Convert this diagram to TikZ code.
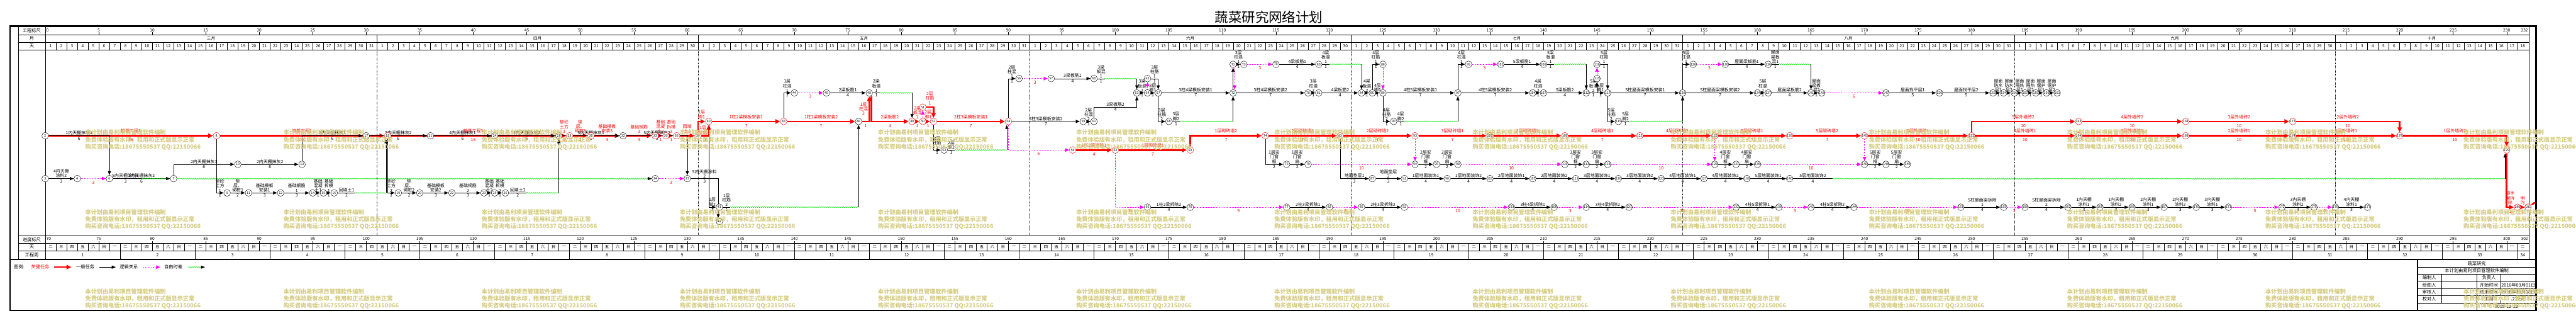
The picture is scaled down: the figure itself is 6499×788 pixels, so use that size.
\documentclass[tikz,border=0pt]{standalone}
\usepackage{fontspec}
\setmainfont{Noto Sans CJK SC}
\usetikzlibrary{arrows.meta,decorations.pathmorphing}
\definecolor{crit-red}{HTML}{FF0000}
\definecolor{slack-green}{HTML}{00E600}
\definecolor{link-magenta}{HTML}{FF00FF}
\definecolor{mark-khaki}{HTML}{D6CC82}
\newcommand\lbfont{\fontsize{11}{11.5}\selectfont}
\newcommand\scfont{\fontsize{10.5}{11}\selectfont}
\newcommand\hdfont{\fontsize{11.5}{12}\selectfont}
\pgfdeclarelayer{grid}
\pgfdeclarelayer{crit}
\pgfdeclarelayer{links}
\pgfsetlayers{grid,crit,links,main}
\tikzset{
  ev/.style={circle, draw=black, line width=0.7pt, fill=white,
    minimum size=17pt, inner sep=0pt, font=\fontsize{8.5}{9}\selectfont},
  evc/.style={ev, draw=crit-red},
  tline/.style={draw=black, line width=0.9pt},
  task/.style={tline, -{Triangle[length=10pt,width=8pt]}},
  crit/.style={draw=crit-red, line width=4pt, -{Triangle[length=12pt,width=11pt]}},
  dummy/.style={draw=link-magenta, line width=1pt, dash pattern=on 2pt off 2pt,
    -{Triangle[length=10pt,width=9pt]}},
  slack/.style={draw=slack-green, line width=0.8pt, decorate,
    decoration={snake, amplitude=1.3pt, segment length=5pt}},
  slackarr/.style={draw=slack-green, line width=0.8pt, decorate,
    decoration={snake, amplitude=1.3pt, segment length=5pt, post length=10pt},
    -{Triangle[length=10pt,width=8pt,color=black]}},
  lab/.style={above=1.5pt, font=\lbfont, align=center, inner sep=0pt},
  lbr/.style={lab, above=3pt, text=crit-red},
  lbside/.style={left=1.5pt, font=\lbfont, align=center, inner sep=0pt, text=crit-red},
  dur/.style={below=2pt, font=\lbfont, inner sep=0pt},
  dr/.style={dur, below=3pt, text=crit-red},
  scl/.style={font=\scfont, inner sep=0pt},
  hd/.style={font=\hdfont, inner sep=0pt},
  wm/.style={anchor=west, font=\fontsize{14.5}{15}\selectfont\bfseries, text=mark-khaki, inner sep=0pt},
  monthsep/.style={draw=black, line width=0.5pt, dash pattern=on 1.5pt off 1.5pt},
}
\begin{document}
\begin{tikzpicture}[x=1pt, y=-1pt]
\useasboundingbox (0,0) rectangle (6499,788);
\begin{pgfonlayer}{grid}
  \fill[white] (0,0) rectangle (6499,788);
\end{pgfonlayer}
% title
\node[font=\fontsize{34}{36}\selectfont, inner sep=0pt] (title) at (3201,43) {蔬菜研究网络计划};
% frame and rulers
\draw[line width=4pt] (25.5,66) rectangle (6398,782);
\draw[line width=3pt] (25.5,653.5) -- (6398,653.5);
\draw[line width=0.8pt] (46,68) -- (46,652);
\draw[line width=0.8pt] (114,68) -- (114,652);
\draw[line width=0.8pt] (6380,68) -- (6380,652);
\foreach \y in {87,106,125,594,613,632} \draw[line width=0.8pt] (46,\y) -- (6380,\y);
\node[hd] (hdScale) at (80,77.5) {工程标尺};
\node[hd] (hdMonth) at (80,96.5) {月};
\node[hd] (hdDay) at (80,115.5) {天};
\node[hd] (hdProg) at (80,603.5) {进度标尺};
\node[hd] (hdWeekday) at (80,622.5) {天};
\node[hd] (hdWeek) at (80,642.5) {工程周};

\begin{scope}[shift={(114,0)}, x=27pt]
  % top scale
  \node[scl, anchor=west] (sc0) at (0.1,76.5) {0};
  \foreach \d in {5,10,...,230} {
    \draw[line width=0.6pt] (\d,81) -- (\d,87);
    \node[scl] at (\d,76.5) {\d};
  }
  \node[scl, anchor=east] (sc232) at (232,76.5) {232};
  % months
  \foreach \b in {31,61,92,122,153,184,214} \draw[line width=0.8pt] (\b,87) -- (\b,106);
  \foreach \c/\mname in {15.5/三月,46/四月,76.5/五月,107/六月,137.5/七月,168.5/八月,199/九月,223/十月}
    \node[scl] at (\c,96.5) {\mname};
  % days of month
  \foreach \d in {1,...,231} \draw[line width=0.6pt] (\d,106) -- (\d,125);
  \foreach \ms/\mn in {0/31,31/30,61/31,92/30,122/31,153/31,184/30,214/18}
    \foreach \i in {1,...,\mn}
      \node[scl] at (\ms+\i-0.5,115.5) {\i};
  \begin{pgfonlayer}{grid}
    \foreach \b in {31,61,92,122,153,184,214} \draw[monthsep] (\b,125) -- (\b,594);
  \end{pgfonlayer}
  % bottom scale
  \node[scl, anchor=west] (pc70) at (0.1,601.5) {70};
  \foreach \d in {5,10,...,230} {
    \pgfmathtruncatemacro\p{\d+70}
    \draw[line width=0.6pt] (\d,607) -- (\d,613);
    \node[scl] at (\d,601.5) {\p};
  }
  \node[scl, anchor=east] (pc302) at (232,601.5) {302};
  \foreach \d in {1,...,231} \draw[line width=0.6pt] (\d,613) -- (\d,632);
  \foreach \d in {0,...,231} {
    \pgfmathtruncatemacro\w{mod(\d+1,7)}
    \node[scl] at (\d+0.5,622.5) {\ifcase\w 一\or 二\or 三\or 四\or 五\or 六\or 日\fi};
  }
  \foreach \k in {1,...,33} {
    \draw[line width=0.6pt] (7*\k,632) -- (7*\k,652);
    \node[scl] at (7*\k-3.5,642.5) {\k};
  }
  \node[scl] (wk34) at (231.5,642.5) {34};

  % events
  \foreach \id/\d/\r in {
    71/111/162, 73/112/162, 75/115/162, 80/119/162, 88/125/162, 99/133/162, 102/136/162,
    106/140/162, 116/145/162, 126/154/162, 130/157/162, 136/161/162,
    56/91/198, 57/94/198, 60/98/198, 65/103/198, 115/145/198,
    44/70/234, 45/73/234, 48/77/234, 63/102/234, 64/103/234, 67/104/234, 72/111/234,
    78/118/234, 81/119/234, 84/123/234, 86/124/234, 89/125/234, 97/132/234, 104/139/234,
    107/140/234, 112/144/234, 117/146/234, 128/153/234, 134/160/234, 137/161/234,
    141/165/234, 143/166/234, 147/172/234, 150/177/234, 153/182/234, 154/183/234,
    156/184/234, 157/185/234, 159/186/234, 160/187/234, 161/188/234,
    46/76/306, 59/97/306, 61/98/306, 68/105/306, 90/126/306, 119/147/306,
    2/0/342, 17/30/342, 21/36/342, 24/42/342, 28/48/342, 32/54/342,
    53/84/378,
    10/18/414, 13/24/414, 76/116/414, 79/118/414, 94/128/414, 95/130/414, 98/132/414,
    110/142/414, 113/144/414, 118/146/414, 129/156/414, 131/158/414, 135/160/414,
    146/170/414, 148/172/414, 149/174/414,
    3/0/450, 4/3/450, 6/6/450, 7/12/450, 34/57/450, 37/60/450, 87/124/450, 91/127/450,
    96/131/450, 101/135/450, 105/139/450, 111/143/450, 120/147/450, 123/151/450,
    127/155/450, 133/159/450, 140/163/450,
    9/17/486, 11/19/486, 12/22/486, 14/25/486, 15/26/486, 16/27/486, 19/33/486,
    20/35/486, 22/38/486, 23/41/486, 25/42/486, 26/43/486,
    41/63/522, 66/103/522, 70/107/522, 77/116/522, 82/120/522, 85/123/522, 92/127/522,
    103/137/522, 108/141/522, 114/144/522, 121/148/522, 132/158/522, 138/162/522,
    142/165/522, 144/169/522, 151/179/522, 155/183/522, 158/185/522, 162/189/522,
    165/192/522, 166/195/522, 167/198/522, 170/201/522, 171/204/522, 172/209/522,
    175/212/522, 176/214/522, 177/217/522,
    42/63/558}
    \node[ev] (n\id) at (\d,\r) {\id};
  % critical events
  \foreach \id/\d/\r in {
    51/82/270, 40/62/306, 43/69/306, 49/81/306, 50/82/306, 52/83/306, 54/90/306,
    163/190/306, 168/200/306, 173/210/306,
    8/16/342, 18/32/342, 29/49/342, 30/51/342, 33/57/342, 35/58/342, 36/59/342,
    39/61/342, 74/114/342, 83/121/342, 93/128/342, 100/135/342, 109/142/342,
    122/149/342, 125/156/342, 139/163/342, 145/170/342, 152/180/342, 164/190/342,
    169/200/342, 174/210/342, 178/220/342,
    58/96/378, 62/100/378, 69/107/378, 179/230/378,
    180/231/522, 181/232/522}
    \node[evc] (n\id) at (\d,\r) {\id};

  % free ends of slack lines
  \coordinate (f6) at (9,450);
  \coordinate (f16) at (29,486);
  \coordinate[xshift=-4pt] (g16) at (32,486);
  \coordinate (f26) at (45,486);
  \coordinate (g26) at (48,486);
  \coordinate (f41) at (64,522);
  \coordinate (g41) at (76,522);
  \coordinate (f48) at (78,234);
  \coordinate (g48) at (81,234);
  \coordinate (f53) at (85,378);
  \coordinate[xshift=-4pt] (g53) at (90,378);
  \coordinate (f60) at (99,198);
  \coordinate (g60) at (102,198);
  \coordinate (k61) at (100,270);
  \coordinate (f68) at (106,306);
  \coordinate (g68) at (111,306);
  \coordinate (f80) at (120,162);
  \coordinate (g80) at (123,162);
  \coordinate (f90) at (127,306);
  \coordinate (g90) at (132,306);
  \coordinate (f106) at (141,162);
  \coordinate (g106) at (144,162);
  \coordinate (f119) at (148,306);
  \coordinate (g119) at (153,306);
  \coordinate (f136) at (162,162);
  \coordinate (g136) at (165,162);
  \coordinate (f140) at (167,450);
  \coordinate[xshift=-4pt] (g140) at (230,450);

  % critical path
  \begin{pgfonlayer}{crit}
    \draw[crit] (n2) -- node[lbr]{桩基工程1} node[dr]{16} (n8);
    \draw[crit] (n8) -- node[lbr]{桩基工程2} node[dr]{16} (n18);
    \draw[crit] (n18) -- node[lbr]{桩基工程3} node[dr]{16} (n28);
    \draw[crit] (n28) -- node[lbr]{垫砼\\土方\\3} node[dr]{1} (n29);
    \draw[crit] (n29) -- node[lbr]{垫\\层、\\砌桩3} node[dr]{2} (n30);
    \draw[crit] (n30) -- node[lbr]{基础模板\\安装3} node[dr]{3} (n32);
    \draw[crit] (n32) -- node[lbr]{基础钢筋\\3} node[dr]{3} (n33);
    \draw[crit] (n33) -- node[lbr]{基础\\混凝\\土3} node[dr]{1} (n35);
    \draw[crit] (n35) -- node[lbr]{基础\\拆模\\3} node[dr]{1} (n36);
    \draw[crit] (n36) -- node[lbr]{回填\\土3} node[dr]{2} (n39);
    \draw[crit] (n39) |- node[pos=0.75,lbr]{1层\\脚1} (n40);
    \draw[crit] (n39) -| node[pos=0.25,dr]{1} node[pos=0.75,lbside]{1层\\柱筋} (n40);
    \draw[crit] (n40) -- node[lbr]{1柱2梁模板安装1} node[dr]{7} (n43);
    \draw[crit] (n43) -- node[lbr]{1柱2梁模板安装2} node[dr]{7} (n46);
    \draw[crit] (n46) -| node[pos=0.25,dr]{1} node[pos=0.75,lbside]{1层\\柱混\\2} (n48);
    \draw[crit] ([xshift=5pt]n48.south) |- node[pos=0.75,lbr]{2梁板筋2} node[pos=0.75,dr]{4} (n49);
    \draw[crit] (n49) -- node[lbr]{2梁\\板混\\2} node[dr]{1} (n50);
    \draw[crit] (n50) -- node[lbr]{2层\\脚1} node[dr]{1} (n52);
    \draw[crit] (n51) -| node[pos=0.25,lbr]{2层\\柱筋\\1} (n52);
    \draw[crit] (n52) -- node[lbr]{2柱3梁模板安装1} node[dr]{7} (n54);
    \draw[crit] (n58) -- node[lbr]{1柱2梁拆除1} node[dr]{4} (n62);
    \draw[crit] (n62) -- node[lbr]{1层砌砖墙1} node[dr]{7} (n69);
    \draw[crit] (n69) |- node[pos=0.75,lbr]{1层砌砖墙2} node[pos=0.75,dr]{7} (n74);
    \draw[crit] (n74) -- node[lbr]{2层砌砖墙1} node[dr]{7} (n83);
    \draw[crit] (n83) -- node[lbr]{2层砌砖墙2} node[dr]{7} (n93);
    \draw[crit] (n93) -- node[lbr]{3层砌砖墙1} node[dr]{7} (n100);
    \draw[crit] (n100) -- node[lbr]{3层砌砖墙2} node[dr]{7} (n109);
    \draw[crit] (n109) -- node[lbr]{4层砌砖墙1} node[dr]{7} (n122);
    \draw[crit] (n122) -- node[lbr]{4层砌砖墙2} node[dr]{7} (n125);
    \draw[crit] (n125) -- node[lbr]{5层砌砖墙1} node[dr]{7} (n139);
    \draw[crit] (n139) -- node[lbr]{5层砌砖墙2} node[dr]{7} (n145);
    \draw[crit] (n145) -- node[lbr]{5层外墙砖1} node[dr]{10} (n152);
    \draw[crit] (n152) -- node[lbr]{4层外墙砖1} node[dr]{10} (n164);
    \draw[crit] (n164) -- node[lbr]{3层外墙砖1} node[dr]{10} (n169);
    \draw[crit] (n169) -- node[lbr]{2层外墙砖1} node[dr]{10} (n174);
    \draw[crit] (n174) -- node[lbr]{1层外墙砖1} node[dr]{10} (n178);
    \draw[crit] (n178) -| node[pos=0.25,lbr]{1层外墙砖2} node[pos=0.25,dr]{10} (n179);
    \draw[crit] (n152) |- node[pos=0.75,lbr]{5层外墙砖2} node[pos=0.75,dr]{10} (n163);
    \draw[crit] (n163) -- node[lbr]{4层外墙砖2} node[dr]{10} (n168);
    \draw[crit] (n168) -- node[lbr]{3层外墙砖2} node[dr]{10} (n173);
    \draw[crit] (n173) -| node[pos=0.25,lbr]{2层外墙砖2} node[pos=0.25,dr]{10} (n178);
    \draw[crit] (n179) |- node[pos=0.75,lbr]{脚手\\架拆\\除} node[pos=0.75,dr]{1} (n180);
    \draw[crit] (n180) -- node[lbr]{明\\沟} node[dr]{1} (n181);
    \fill[crit-red] (n181.north east) -- ++(9pt,7pt) -- ++(7pt,0pt) -- ++(-9pt,-7pt) -- cycle;
  \end{pgfonlayer}

  % other tasks, links and slack
  \begin{pgfonlayer}{links}
    % ceiling plaster and foundations
    \draw[task] (n2) -| node[pos=0.25,lab]{1内天棚抹灰1} node[pos=0.25,dur]{6} (n6);
    \draw[task] (n3) -- node[lab]{4内天棚\\涂料2} node[dur]{3} (n4);
    \draw[dummy] (n4) -- node[dr]{3} (n6);
    \draw[task] (n6) -- node[pos=0.22,lab]{5内天棚涂料1} node[pos=0.22,dur]{3}
      node[pos=0.5,lab]{1内天棚抹灰2} node[pos=0.5,dur]{6} (n7);
    \draw[slack] (f6) -- ([xshift=-10pt]n7.west);
    \draw[slackarr] (n7) -- (n34);
    \draw[dummy] (n34) -- node[dr]{3} (n37);
    \draw[task] (n7) |- node[pos=0.75,lab]{2内天棚抹灰1} node[pos=0.75,dur]{6} (n10);
    \draw[task] (n10) -- node[lab]{2内天棚抹灰2} node[dur]{6} (n13);
    \draw[task] (n13) |- node[pos=0.75,lab]{3内天棚抹灰1} node[pos=0.75,dur]{6} (n17);
    \draw[task] (n17) -- node[lab]{3内天棚抹灰2} node[dur]{6} (n21);
    \draw[task] (n21) -- node[lab]{4内天棚抹灰1} node[dur]{6} (n24);
    \draw[task] (n24) -- node[lab]{4内天棚抹灰2} node[dur]{6} (n28);
    \draw[task] (n28) -- node[lab]{5内天棚抹灰1} node[dur]{6} (n32);
    \draw[task] (n32) -| node[pos=0.25,lab]{5内天棚抹灰2} node[pos=0.25,dur]{6} (n37);
    \draw[task] (n37) -| node[pos=0.25,lab]{5内天棚涂料\\2} node[pos=0.25,dur]{3} ([xshift=-3pt]n42.north);
    \draw[task] (n8) |- node[pos=0.75,lab]{垫砼\\土方\\1} node[pos=0.75,dur]{1} (n9);
    \draw[task] (n9) -- node[lab]{垫\\层、\\砌桩1} node[dur]{2} (n11);
    \draw[task] (n11) -- node[lab]{基础模板\\安装1} node[dur]{3} (n12);
    \draw[task] (n12) -- node[lab]{基础钢筋\\1} node[dur]{3} (n14);
    \draw[task] (n14) -- node[lab]{基础\\混凝\\土1} node[dur]{1} (n15);
    \draw[task] (n15) -- node[lab]{基础\\拆模\\1} node[dur]{1} (n16);
    \draw[tline] (n16) -- node[lab]{回填土1} node[dur]{2} (f16);
    \draw[slack] (f16) -- (g16);
    \draw[task] (g16) -- (g16 |- n18.south);
    \draw[task] (n18) |- node[pos=0.75,lab]{垫砼\\土方\\2} node[pos=0.75,dur]{1} (n19);
    \draw[task] (n19) -- node[lab]{垫\\层、\\砌桩2} node[dur]{2} (n20);
    \draw[task] (n20) -- node[lab]{基础模板\\安装2} node[dur]{3} (n22);
    \draw[task] (n22) -- node[lab]{基础钢筋\\2} node[dur]{3} (n23);
    \draw[task] (n23) -- node[lab]{基础\\混凝\\土2} node[dur]{1} (n25);
    \draw[task] (n25) -- node[lab]{基础\\拆模\\2} node[dur]{1} (n26);
    \draw[tline] (n26) -- node[lab]{回填土2} node[dur]{2} (f26);
    \draw[slack] (f26) -- (g26);
    \draw[task] (g26) -- (n28);
    % floor 1
    \draw[task] (n43) |- node[pos=0.75,lab]{1层\\柱混\\1} node[pos=0.75,dur]{1} (n44);
    \draw[dummy] (n44) -- node[dr]{3} (n45);
    \draw[task] (n45) -- node[lab]{2梁板筋1} node[dur]{4} (n48);
    \draw[tline] (n48) -- node[lab]{2梁\\板混\\1} node[dur]{1} (f48);
    \draw[slack] (f48) -- (g48);
    \draw[task] (g48) -- (n49);
    \draw[task] (n40) |- node[pos=0.75,lab]{1层\\脚2} node[pos=0.75,dur]{1} (n41);
    \draw[tline] (n41) -- node[lab]{1层\\柱筋\\2} node[dur]{1} (f41);
    \draw[slack] (f41) -- (g41);
    \draw[task] (g41) -- (n46);
    % floor 2
    \draw[dummy] (n50) -- (n51);
    \draw[task] (n52) |- node[pos=0.75,lab]{2层\\柱筋\\2} node[pos=0.75,dur]{1} (n53);
    \draw[tline] (n53) -- node[lab]{2层\\脚2} node[dur]{1} (f53);
    \draw[slack] (f53) -- (g53);
    \draw[task] (g53) -- (g53 |- n54.south);
    \draw[task] (n54) |- node[pos=0.75,lab]{2层\\柱混\\1} node[pos=0.75,dur]{1} (n56);
    \draw[dummy] (n56) -- node[dr]{3} (n57);
    \draw[task] (n57) -- node[lab]{3梁板筋1} node[dur]{4} (n60);
    \draw[tline] (n60) -- node[lab]{3梁\\板混\\1} node[dur]{1} (f60);
    \draw[slack] (f60) -- (g60);
    \draw[task] (g60) -- (n63);
    \draw[task] (n54) -- node[lab]{2柱3梁模板安装2} node[dur]{7} (n59);
    \draw[task] (n59) -- node[lab]{2层\\柱混\\2} node[dur]{1} (n61);
    \draw[task] (n61) |- (k61) node[lab]{3梁板筋2} node[dur]{4} -| (n63);
    \draw[dummy] (n54) |- node[pos=0.75,dr]{6} (n58);
    \draw[dummy] (n62) |- node[pos=0.75,dr]{3} (n66);
    % floor 3
    \draw[task] (n63) -- node[lab]{3梁\\板混\\2} node[dur]{1} (n64);
    \draw[task] (n64) -- node[lab]{3层\\脚1} node[dur]{1} (n67);
    \draw[dummy] (n64) -- (n65);
    \draw[task] (n65) -| node[pos=0.25,lab]{3层\\柱筋\\1} node[pos=0.25,dur]{1} (n67);
    \draw[task] (n67) -- node[lab]{3柱4梁模板安装1} node[dur]{7} (n72);
    \draw[task] (n67) |- node[pos=0.75,lab]{3层\\柱筋\\2} node[pos=0.75,dur]{1} (n68);
    \draw[tline] (n68) -- node[lab]{3层\\脚2} node[dur]{1} (f68);
    \draw[slack] (f68) -- (g68);
    \draw[task] (g68) -- (n72);
    \draw[task] (n72) -- (n71);
    \draw[dummy] ([xshift=4pt]n71.south) -- ([xshift=4pt]n72.north);
    \draw[task] (n71) -- node[lab]{3层\\柱混\\1} node[dur]{1} (n73);
    \draw[dummy] (n73) -- node[dr]{3} (n75);
    \draw[task] (n75) -- node[lab]{4梁板筋1} node[dur]{4} (n80);
    \draw[tline] (n80) -- node[lab]{4梁\\板混\\1} node[dur]{1} (f80);
    \draw[slack] (f80) -- (g80);
    \draw[task] (g80) -- (n84);
    \draw[task] (n72) -- node[lab]{3柱4梁模板安装2} node[dur]{7} (n78);
    \draw[task] (n78) -- node[lab]{3层\\柱混\\2} node[dur]{1} (n81);
    \draw[task] (n81) -- node[lab]{4梁板筋2} node[dur]{4} (n84);
    % floor 4
    \draw[task] (n84) -- node[lab]{4梁\\板混\\2} node[dur]{1} (n86);
    \draw[task] (n86) -- node[lab]{4层\\脚1} node[dur]{1} (n89);
    \draw[task] (n86) |- node[pos=0.75,lab]{4层\\柱筋\\1} node[pos=0.75,dur]{1} (n88);
    \draw[dummy] (n88) -- (n89);
    \draw[task] (n89) -- node[lab]{4柱5梁模板安装1} node[dur]{7} (n97);
    \draw[task] (n89) |- node[pos=0.75,lab]{4层\\柱筋\\2} node[pos=0.75,dur]{1} (n90);
    \draw[tline] (n90) -- node[lab]{4层\\脚2} node[dur]{1} (f90);
    \draw[slack] (f90) -- (g90);
    \draw[task] (g90) -- (n97);
    \draw[task] (n97) |- node[pos=0.75,lab]{4层\\柱混\\1} node[pos=0.75,dur]{1} (n99);
    \draw[dummy] (n99) -- node[dr]{3} (n102);
    \draw[task] (n102) -- node[lab]{5梁板筋1} node[dur]{4} (n106);
    \draw[tline] (n106) -- node[lab]{5梁\\板混\\1} node[dur]{1} (f106);
    \draw[slack] (f106) -- (g106);
    \draw[task] (g106) -- (n112);
    \draw[task] (n97) -- node[lab]{4柱5梁模板安装2} node[dur]{7} (n104);
    \draw[task] (n104) -- node[lab]{4层\\柱混\\2} node[dur]{1} (n107);
    \draw[task] (n107) -- node[lab]{5梁板筋2} node[dur]{4} (n112);
    % floor 5 and roof
    \draw[task] (n112) -| node[pos=0.25,lab]{5梁\\板混\\2} node[pos=0.25,dur]{1} (n115);
    \draw[task] (n115) |- node[pos=0.75,lab]{5层\\脚1} node[pos=0.75,dur]{1} (n117);
    \draw[dummy] (n115) -- (n116);
    \draw[task] (n116) -| node[pos=0.25,lab]{5层\\柱筋\\1} node[pos=0.25,dur]{1} (n117);
    \draw[task] (n117) -- node[lab]{5柱屋面梁模板安装1} node[dur]{7} (n128);
    \draw[task] (n117) |- node[pos=0.75,lab]{5层\\柱筋\\2} node[pos=0.75,dur]{1} (n119);
    \draw[tline] (n119) -- node[lab]{5层\\脚2} node[dur]{1} (f119);
    \draw[slack] (f119) -- (g119);
    \draw[task] (g119) -- (n128);
    \draw[task] (n128) |- node[pos=0.75,lab]{5层\\柱混\\1} node[pos=0.75,dur]{1} (n126);
    \draw[dummy] (n126) -- node[dr]{3} (n130);
    \draw[task] (n130) -- node[lab]{屋面梁板筋1} node[dur]{4} (n136);
    \draw[tline] (n136) -- node[lab]{屋面\\梁板\\混1} node[dur]{1} (f136);
    \draw[slack] (f136) -- (g136);
    \draw[task] (g136) -- (n141);
    \draw[task] (n128) -- node[lab]{5柱屋面梁模板安装2} node[dur]{7} (n134);
    \draw[task] (n134) -- node[lab]{5层\\柱混\\2} node[dur]{1} (n137);
    \draw[task] (n137) -- node[lab]{屋面梁板筋2} node[dur]{4} (n141);
    \draw[task] (n141) -- node[lab]{屋面\\梁板\\混2} node[dur]{1} (n143);
    \draw[dummy] (n143) -- node[dr]{6} (n147);
    \draw[task] (n147) -- node[lab]{屋面找平层1} node[dur]{5} (n150);
    \draw[task] (n150) -- node[lab]{屋面找平层2} node[dur]{5} (n153);
    \draw[task] (n153) -- node[lab]{屋面\\防水\\层1} node[dur]{1} (n154);
    \draw[task] (n154) -- node[lab]{屋面\\防水\\层2} node[dur]{1} (n156);
    \draw[task] (n156) -- node[lab]{屋面\\隔热\\层1} node[dur]{1} (n157);
    \draw[task] (n157) -- node[lab]{屋面\\隔热\\层2} node[dur]{1} (n159);
    \draw[task] (n159) -- node[lab]{屋面\\保护\\层1} node[dur]{1} (n160);
    \draw[task] (n160) -- node[lab]{屋面\\保护\\层2} node[dur]{1} (n161);
    % doors and windows
    \draw[task] (n74) |- node[pos=0.75,lab]{1层安\\门窗\\框} node[pos=0.75,dur]{2} (n76);
    \draw[task] (n76) -- node[lab]{1层安\\门窗\\扇} node[dur]{2} (n79);
    \draw[dummy] (n79) -- node[dr]{10} (n94);
    \draw[dummy] (n93) -- (n94);
    \draw[task] (n94) -- node[lab]{2层安\\门窗\\框} node[dur]{2} (n95);
    \draw[task] (n95) -- node[lab]{2层安\\门窗\\扇} node[dur]{2} (n98);
    \draw[dummy] (n98) -- node[dr]{10} (n110);
    \draw[task] (n110) -- node[lab]{3层安\\门窗\\框} node[dur]{2} (n113);
    \draw[task] (n113) -- node[lab]{3层安\\门窗\\扇} node[dur]{2} (n118);
    \draw[dummy] (n118) -- node[dr]{10} (n129);
    \draw[dummy] (n125) -- (n129);
    \draw[task] (n129) -- node[lab]{4层安\\门窗\\框} node[dur]{2} (n131);
    \draw[task] (n131) -- node[lab]{4层安\\门窗\\扇} node[dur]{2} (n135);
    \draw[dummy] (n135) -- node[dr]{10} (n146);
    \draw[dummy] (n145) -- (n146);
    \draw[task] (n146) -- node[lab]{5层安\\门窗\\框} node[dur]{2} (n148);
    \draw[task] (n148) -- node[lab]{5层安\\门窗\\扇} node[dur]{2} (n149);
    % floors
    \draw[task] (n83) |- node[pos=0.75,lab]{地面垫层1} node[pos=0.75,dur]{3} (n87);
    \draw[task] (n87) -- node[lab]{地面垫层\\2} node[dur]{3} (n91);
    \draw[task] (n91) -- node[lab]{1层地面装饰1} node[dur]{4} (n96);
    \draw[task] (n96) -- node[lab]{1层地面装饰2} node[dur]{4} (n101);
    \draw[task] (n101) -- node[lab]{2层地面装饰1} node[dur]{4} (n105);
    \draw[task] (n105) -- node[lab]{2层地面装饰2} node[dur]{4} (n111);
    \draw[task] (n111) -- node[lab]{3层地面装饰1} node[dur]{4} (n120);
    \draw[task] (n120) -- node[lab]{3层地面装饰2} node[dur]{4} (n123);
    \draw[task] (n123) -- node[lab]{4层地面装饰1} node[dur]{4} (n127);
    \draw[task] (n127) -- node[lab]{4层地面装饰2} node[dur]{4} (n133);
    \draw[task] (n133) -- node[lab]{5层地面装饰1} node[dur]{4} (n140);
    \draw[tline] (n140) -- node[lab]{5层地面装饰2} node[dur]{4} (f140);
    \draw[slack] (f140) -- (g140);
    \draw[task] (g140) -- (g140 |- n179.south);
    % formwork removal and ceiling paint
    \draw[task] (n66) -- node[lab]{1柱2梁拆除2} node[dur]{4} (n70);
    \draw[dummy] (n70) -- node[dr]{9} (n77);
    \draw[task] (n77) -- node[lab]{2柱3梁拆除1} node[dur]{4} (n82);
    \draw[dummy] (n82) -- node[dr]{3} (n85);
    \draw[task] (n85) -- node[lab]{2柱3梁拆除2} node[dur]{4} (n92);
    \draw[dummy] (n92) -- node[dr]{10} (n103);
    \draw[task] (n103) -- node[lab]{3柱4梁拆除1} node[dur]{4} (n108);
    \draw[dummy] (n108) -- node[dr]{3} (n114);
    \draw[task] (n114) -- node[lab]{3柱4梁拆除2} node[dur]{4} (n121);
    \draw[dummy] (n121) -- node[dr]{10} (n132);
    \draw[task] (n132) -- node[lab]{4柱5梁拆除1} node[dur]{4} (n138);
    \draw[dummy] (n138) -- node[dr]{3} (n142);
    \draw[task] (n142) -- node[lab]{4柱5梁拆除2} node[dur]{4} (n144);
    \draw[dummy] (n144) -- node[dr]{10} (n151);
    \draw[task] (n151) -- node[lab]{5柱屋面梁拆除\\1} node[dur]{4} (n155);
    \draw[dummy] (n155) -- node[dr]{2} (n158);
    \draw[task] (n158) -- node[lab]{5柱屋面梁拆除\\2} node[dur]{4} (n162);
    \draw[task] (n162) -- node[lab]{1内天棚\\涂料1} node[dur]{3} (n165);
    \draw[task] (n165) -- node[lab]{1内天棚\\涂料2} node[dur]{3} (n166);
    \draw[task] (n166) -- node[lab]{2内天棚\\涂料1} node[dur]{3} (n167);
    \draw[task] (n167) -- node[lab]{2内天棚\\涂料2} node[dur]{3} (n170);
    \draw[task] (n170) -- node[lab]{3内天棚\\涂料1} node[dur]{3} (n171);
    \draw[dummy] (n171) -- node[dr]{5} (n172);
    \draw[task] (n172) -- node[lab]{3内天棚\\涂料2} node[dur]{3} (n175);
    \draw[dummy] (n175) -- node[dr]{2} (n176);
    \draw[task] (n176) -- node[lab]{4内天棚\\涂料1} node[dur]{3} (n177);
  \end{pgfonlayer}
\end{scope}

% legend
\node[hd, anchor=west] (lgTitle) at (35,673) {图例:};
\node[hd, anchor=west, text=crit-red] (lgCrit) at (78,673) {关键任务};
\coordinate (lgCritA) at (137,673);
\coordinate (lgCritB) at (180,673);
\draw[crit] (lgCritA) -- (lgCritB);
\node[hd, anchor=west] (lgTask) at (192,673) {一般任务};
\coordinate (lgTaskA) at (251,673);
\coordinate (lgTaskB) at (292,673);
\draw[task] (lgTaskA) -- (lgTaskB);
\node[hd, anchor=west] (lgLink) at (302,673) {逻辑关系};
\coordinate (lgLinkA) at (362,673);
\coordinate (lgLinkB) at (404,673);
\draw[dummy] (lgLinkA) -- (lgLinkB);
\node[hd, anchor=west] (lgSlack) at (414,673) {自由时差};
\coordinate (lgSlackA) at (475,673);
\coordinate (lgSlackB) at (517,673);
\draw[slackarr] (lgSlackA) -- (lgSlackB);

% title block
\draw[line width=2pt] (6099,654) -- (6099,782);
\foreach \y in {673,691,709,727,745,763} \draw[line width=0.8pt] (6099,\y) -- (6398,\y);
\draw[line width=0.8pt] (6159,691) -- (6159,763);
\draw[line width=0.8pt] (6249,691) -- (6249,782);
\draw[line width=0.8pt] (6309,691) -- (6309,763);
\node[hd] (tbName) at (6248.5,664) {蔬菜研究};
\node[hd] (tbSoft) at (6248.5,682) {本计划由易利项目管理软件编制};
\node[hd] (tbEdit) at (6129,700) {编制人};
\node[hd] (tbLead) at (6279,700) {负责人};
\node[hd] (tbDraw) at (6129,718) {绘图人};
\node[hd] (tbStart) at (6279,718) {开始时间};
\node[hd] (tbStartV) at (6353.5,718) {2016年03月01日};
\node[hd] (tbCheck) at (6129,736) {审核人};
\node[hd] (tbEnd) at (6279,736) {结束时间};
\node[hd] (tbEndV) at (6353.5,736) {2016年10月18日};
\node[hd] (tbProof) at (6129,754) {校对人};
\node[hd] (tbDur) at (6279,754) {工期};
\node[hd] (tbDurV) at (6353.5,754) {232天};
\node[hd] (tbDate) at (6323.5,772.5) {2015-12-22};

% watermark
\foreach \wx in {215,715,...,6215}
  \foreach \wy in {334,534,734} {
    \node[wm] at (\wx,\wy) {本计划由易利项目管理软件编制};
    \node[wm] at (\wx,\wy+18) {免费体验版有水印，租用和正式版显示正常};
    \node[wm] at (\wx,\wy+36) {购买咨询电话:18675550537 QQ:22150066};
  }
\end{tikzpicture}
\end{document}
